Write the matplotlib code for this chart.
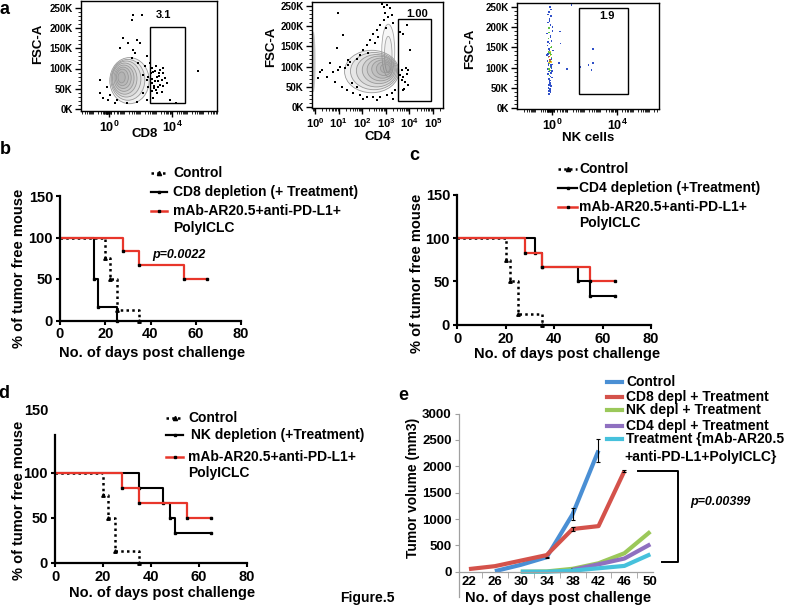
import numpy as np
import matplotlib
matplotlib.use('Agg')
import matplotlib.pyplot as plt
from matplotlib.lines import Line2D
from matplotlib.patches import Ellipse, Rectangle

plt.rcParams['font.family'] = ['Liberation Sans', 'DejaVu Sans']
plt.rcParams['font.weight'] = 'bold'
plt.rcParams['mathtext.fontset'] = 'custom'
plt.rcParams['mathtext.bf'] = 'Liberation Sans:bold'
plt.rcParams['mathtext.rm'] = 'Liberation Sans:bold'

# ---------------- data ----------------
# flow plots: x in log decades, y in K (FSC-A)
fsc_ticks = [0, 50, 100, 150, 200, 250]
fsc_labels = ['0K', '50K', '100K', '150K', '200K', '250K']

# CD8 contour levels (centre x, centre y, width, height)
c1_x = [1.30, 1.20, 1.10, 1.00, 0.95, 0.90, 0.85, 0.80]
c1_y = [70, 72, 74, 75, 76, 77, 78, 78]
c1_w = [2.50, 2.15, 1.85, 1.55, 1.28, 1.02, 0.76, 0.46]
c1_h = [114, 101, 89, 77, 65, 53, 41, 27]
cd8_dots_x = [1.54, 2.07, 1.44, 1.76, 0.91, 1.23, 1.54, 1.65, 1.97, 2.39, 0.70, 1.44, 1.86, 2.29, 2.18,
              2.39, 2.50, 2.18, 2.39, -0.57, -0.36, -0.04, 0.38, 1.12, 1.76, -0.15, 0.06, 0.49, -0.57,
              2.71, 2.81, 3.03, 3.24, 3.45, 2.92, 3.13, 3.34, 3.56, 3.03, 2.81, 3.66, 3.34, 3.87, 4.25,
              5.67, 2.86, 3.20, 3.45, 2.60, 2.98, 2.71, 2.50, 2.65, 2.75, 2.95, 3.10, 3.25, 2.85, 3.00,
              3.15, 2.70, 3.40]
cd8_dots_y = [233, 233, 220, 171, 175, 163, 146, 138, 163, 130, 150, 125, 113, 105, 84,
              72, 55, 39, 22, 39, 26, 22, 14, 14, 18, 55, 35, 22, 72,
              101, 92, 80, 97, 88, 68, 55, 43, 76, 39, 26, 64, 72, 22, 14,
              95, 51, 82, 101, 113, 105, 64, 80, 88, 75, 95, 70, 60, 58, 48,
              88, 45, 58]
cd8_gate = [2.60, 15, 2.23, 188]   # x0, y0, width, height
cd8_pct = '3.1'

# CD4 contour levels
c2_x = [2.40, 2.50, 2.60, 2.70, 2.78, 2.85, 2.92, 2.97]
c2_y = [88, 89, 90, 92, 93, 94, 95, 96]
c2_w = [2.30, 2.00, 1.70, 1.40, 1.15, 0.90, 0.65, 0.40]
c2_h = [105, 92, 80, 68, 56, 45, 34, 22]
spike_x = [3.10, 3.10]
spike_y = [140, 130]
spike_w = [0.55, 0.32]
spike_h = [130, 90]
cd4_dots_x = [2.82, 2.92, 3.04, 3.18, 2.97, 3.11, 3.25, 2.90, 2.75, 2.61, 3.32, 3.01, 2.47, 2.68, 2.33,
              2.19, 2.54, 2.05, 1.91, 2.26, 1.77, 1.48, 1.41, 1.27, 1.06, 0.99, 0.78, 0.64, 0.49, 0.85,
              1.13, 1.34, 1.62, 1.91, 2.19, 2.47, 2.75, 3.04, 3.25, 3.39, 0.92, 1.41, 0.21, 0.14, 1.20,
              0.99, 0.28, 1.55, 1.77, 2.61, 2.05, 3.32,
              3.60, 3.74, 3.88, 4.03, 3.67, 3.74, 3.88, 3.81, 3.95, 3.77, 3.67, 3.86, 3.95, 3.71, 3.60]
cd4_dots_y = [255, 248, 252, 244, 232, 224, 228, 215, 203, 191, 207, 195, 182, 174, 166,
              153, 158, 141, 129, 133, 120, 112, 104, 96, 100, 92, 87, 108, 75, 63,
              50, 42, 34, 30, 26, 24, 26, 30, 34, 42, 145, 116, 87, 71, 178,
              232, 92, 59, 49, 17, 19, 21,
              186, 182, 203, 141, 92, 75, 83, 63, 54, 46, 67, 96, 92, 42, 79]
cd4_gate = [3.53, 16, 1.37, 201]
cd4_pct = '1.00'

# NK pseudo-colour dots
nk_x = [-0.12, -0.20, -0.05, -0.15, -0.25, -0.08, -0.18, 0.02, -0.30, -0.10,
        -0.22, -0.02, -0.14, -0.28, -0.06, -0.17, 0.05, -0.11, -0.24, -0.09,
        -0.19, -0.04, -0.13, -0.27, -0.07, -0.16, 0.00, -0.21, -0.10, -0.03,
        -0.23, -0.12, -0.18, -0.06, -0.26, -0.14, -0.01, -0.20, -0.09, -0.16,
        -0.11, -0.05, -0.22, -0.13, -0.08, -0.19, -0.15, -0.10, -0.17, -0.12,
        -0.07, -0.26, -0.14, 0.03, -0.19, -0.09, -0.23, -0.04, -0.16, -0.11,
        -0.29, -0.02, -0.13, -0.21, -0.06, -0.18, 0.01, -0.24, -0.10, -0.15,
        -0.08, -0.20, -0.12, -0.17, -0.05, -0.22, -0.14, -0.09, -0.18, -0.11,
        0.49, 0.53, 0.94, 0.45, 2.24, 2.54, 2.54, 2.44, 1.21, 1.76]
nk_y = [250, 238, 228, 220, 212, 205, 198, 190, 184, 178,
        172, 166, 160, 155, 150, 146, 142, 138, 134, 130,
        127, 124, 120, 117, 114, 111, 108, 105, 102, 99,
        96, 93, 90, 87, 84, 80, 76, 72, 68, 64,
        60, 55, 50, 45, 40, 35, 128, 120, 112, 116,
        244, 232, 216, 201, 187, 175, 163, 152, 144, 136,
        131, 122, 118, 109, 104, 97, 91, 85, 78, 70,
        62, 57, 48, 42, 132, 125, 110, 106, 138, 140,
        189, 160, 96, 111, 106, 146, 111, 94, 255, 102]
nk_c = ['b', 'b', 'b', 'b', 'b', 'b', 'g', 'b', 'b', 'b',
        'g', 'b', 'b', 'b', 'g', 'b', 'b', 'g', 'b', 'y',
        'b', 'g', 'r', 'b', 'y', 'g', 'b', 'b', 'g', 'b',
        'b', 'g', 'b', 'b', 'b', 'g', 'b', 'b', 'b', 'b',
        'b', 'b', 'b', 'b', 'b', 'b', 'r', 'r', 'y', 'r',
        'b', 'b', 'b', 'b', 'g', 'b', 'b', 'g', 'b', 'g',
        'b', 'b', 'g', 'b', 'b', 'g', 'b', 'b', 'b', 'b',
        'b', 'b', 'b', 'b', 'g', 'y', 'g', 'b', 'g', 'y',
        'b', 'b', 'b', 'b', 'b', 'b', 'b', 'b', 'b', 'b']
nk_gate = [1.66, 35, 3.02, 212]
nk_pct = '1.9'

# Kaplan-Meier curves (days, % tumor free)
b_ctrl_t = [0, 20, 22, 25, 35]
b_ctrl_s = [100, 75, 50, 12.5, 0]
b_dep_t = [0, 15, 17, 25]
b_dep_s = [100, 50, 16.7, 0]
b_trt_t = [0, 28, 35, 55, 65]
b_trt_s = [100, 83.3, 66.7, 50, 50]

c_ctrl_t = [0, 20, 22, 25, 35]
c_ctrl_s = [100, 75, 50, 12.5, 0]
c_dep_t = [0, 32, 35, 50, 55, 65]
c_dep_s = [100, 83.3, 66.7, 50, 33.3, 33.3]
c_trt_t = [0, 28, 35, 55, 65]
c_trt_s = [100, 83.3, 66.7, 50, 50]

d_ctrl_t = [0, 20, 22, 25, 35]
d_ctrl_s = [100, 75, 50, 12.5, 0]
d_dep_t = [0, 35, 45, 48, 50, 65]
d_dep_s = [100, 83.3, 66.7, 50, 33.3, 33.3]
d_trt_t = [0, 28, 35, 55, 65]
d_trt_s = [100, 83.3, 66.7, 50, 50]

km_xticks = [0, 20, 40, 60, 80]

# tumor volume
days_e = ['22', '26', '30', '34', '38', '42', '46', '50']
nan = np.nan
vol_control = [nan, 10, 130, 275, 1090, 2300, nan, nan]
vol_cd8 = [50, 105, 210, 315, 810, 865, 1910, nan]
vol_nk = [nan, nan, 0, 5, 55, 160, 350, 760]
vol_cd4 = [nan, nan, nan, nan, 35, 140, 250, 520]
vol_treat = [nan, nan, 0, 0, 20, 65, 110, 330]
err_control = [0, 0, 0, 10, 110, 210, 0, 0]
err_cd8 = [0, 0, 0, 0, 30, 0, 25, 0]
err_nk = [0, 0, 0, 0, 15, 0, 0, 0]
e_names = ['Control', 'CD8 depl + Treatment', 'NK depl + Treatment', 'CD4 depl + Treatment',
           'Treatment {mAb-AR20.5']
e_colors = ['#4a8fd4', '#d4524b', '#9bc85a', '#8f70c0', '#46c1dc']

RED = '#e8362b'

# ---------------- figure ----------------
W, H = 787, 607
fig = plt.figure(figsize=(W / 100, H / 100), dpi=100)


def add_ax(l, t, r, b):
    return fig.add_axes([l / W, 1 - b / H, (r - l) / W, (b - t) / H])


def ftext(x, y, s, **kw):
    kw.setdefault('ha', 'center')
    kw.setdefault('va', 'center')
    kw.setdefault('fontweight', 'bold')
    return fig.text(x / W, 1 - y / H, s, **kw)


def fline(xs, ys, **kw):
    fig.add_artist(Line2D([x / W for x in xs], [1 - y / H for y in ys], **kw))


# ---------- panel a ----------
def flow_axes(ax, xlim, ylim, xt, fs, dense=False):
    ax.set_xlim(*xlim)
    ax.set_ylim(*ylim)
    for s in ax.spines.values():
        s.set_linewidth(1.0)
    ax.set_yticks(fsc_ticks)
    ax.set_yticklabels(fsc_labels, fontsize=7)
    ax.set_yticks(np.arange(0, 260, 10), minor=True)
    ax.set_xticks(xt)
    ax.set_xticklabels([r'$\mathbf{10^{%d}}$' % d for d in xt], fontsize=fs)
    minor = [d + np.log10(k) for d in range(-2, 7) for k in range(2, 10)]
    if dense:
        minor += list(np.arange(-0.3, 0.15, 0.04))
    ax.set_xticks([m for m in minor if xlim[0] < m < xlim[1]], minor=True)
    ax.tick_params(which='major', length=4, width=1, pad=2)
    ax.tick_params(which='minor', length=2.2, width=0.6)


ax1 = add_ax(81, 0.5, 217, 111)
flow_axes(ax1, (-1.78, 6.86), (-5, 268), [0, 4], 9, dense=True)
for cx, cy, w, h in zip(c1_x, c1_y, c1_w, c1_h):
    ax1.add_patch(Ellipse((cx, cy), w, h, facecolor=(0.5, 0.5, 0.5, 0.10),
                          edgecolor='0.6', lw=0.6))
ax1.scatter(cd8_dots_x, cd8_dots_y, s=0.9, c='k', marker='s', lw=0)
ax1.add_patch(Rectangle((cd8_gate[0], cd8_gate[1]), cd8_gate[2], cd8_gate[3],
                        fill=False, ec='k', lw=1))
ax1.text(3.43, 233, cd8_pct, ha='center', va='center', fontsize=8)

ax2 = add_ax(312, 2, 443, 107.5)
flow_axes(ax2, (-0.13, 5.42), (-1, 260), [0, 1, 2, 3, 4, 5], 8)
ax2.add_patch(Ellipse((-0.06, 112), 0.16, 150, facecolor=(0.5, 0.5, 0.5, 0.45), edgecolor='none'))
for cx, cy, w, h in zip(spike_x, spike_y, spike_w, spike_h):
    ax2.add_patch(Ellipse((cx, cy), w, h, facecolor=(0.5, 0.5, 0.5, 0.06),
                          edgecolor='0.65', lw=0.6))
for cx, cy, w, h in zip(c2_x, c2_y, c2_w, c2_h):
    ax2.add_patch(Ellipse((cx, cy), w, h, facecolor=(0.5, 0.5, 0.5, 0.10),
                          edgecolor='0.6', lw=0.6))
ax2.scatter(cd4_dots_x, cd4_dots_y, s=0.9, c='k', marker='s', lw=0)
ax2.add_patch(Rectangle((cd4_gate[0], cd4_gate[1]), cd4_gate[2], cd4_gate[3],
                        fill=False, ec='k', lw=1))
ax2.text(4.31, 230, cd4_pct, ha='center', va='center', fontsize=8)

ax3 = add_ax(517, 3, 659, 109)
flow_axes(ax3, (-2.15, 6.58), (-2.5, 260), [0, 4], 9, dense=True)
cmap_nk = {'b': '#3050c8', 'g': '#60c040', 'y': '#e0d020', 'r': '#e03020'}
ax3.scatter(nk_x, nk_y, s=1.3, c=[cmap_nk[c] for c in nk_c], marker='s', lw=0)
ax3.add_patch(Rectangle((nk_gate[0], nk_gate[1]), nk_gate[2], nk_gate[3],
                        fill=False, ec='k', lw=1))
ax3.text(3.38, 228, nk_pct, ha='center', va='center', fontsize=8)

ftext(38, 44, 'FSC-A', rotation=90, fontsize=9.5)
ftext(271, 47, 'FSC-A', rotation=90, fontsize=9.5)
ftext(470, 49, 'FSC-A', rotation=90, fontsize=9.5)
ftext(145, 134, 'CD8', fontsize=9.5)
ftext(378, 137, 'CD4', fontsize=9.5)
ftext(588, 138, 'NK cells', fontsize=9.5)


# ---------- KM panels ----------
def km_axes(ax, ytop, spine_top, yticks):
    ax.set_xlim(0, 80)
    ax.set_ylim(0, ytop)
    ax.spines['top'].set_visible(False)
    ax.spines['right'].set_visible(False)
    ax.spines['left'].set_linewidth(1.6)
    ax.spines['bottom'].set_linewidth(1.6)
    ax.spines['left'].set_bounds(0, spine_top)
    ax.set_xticks(km_xticks)
    ax.set_yticks(yticks)
    ax.tick_params(length=3, width=1.5, labelsize=10.5, pad=2)


def km_curves(ax, ct, cs, dt, ds, tt, ts):
    ax.step(ct, cs, where='post', color='k', lw=1.8, ls=(0, (1, 1.3)), clip_on=False)
    ax.plot(ct[1:], cs[1:], ls='none', marker='^', ms=2.5, color='k', clip_on=False)
    ax.step(dt, ds, where='post', color='k', lw=1.5, clip_on=False)
    ax.plot(dt[1:], ds[1:], ls='none', marker='s', ms=2, color='k', clip_on=False)
    ax.step(tt, ts, where='post', color=RED, lw=1.6, clip_on=False)
    ax.plot(tt[1:], ts[1:], ls='none', marker='s', ms=2, color='k', clip_on=False)


def km_legend(x0, x1, tx, ys, dep_label, tx2=None):
    yc, yd, yt, yp = ys
    mid = (x0 + x1) / 2
    fline([x0, x1], [yc, yc], color='k', lw=1.8, ls=(0, (1, 1.3)))
    fline([mid], [yc], color='k', marker='^', ms=3)
    fline([x0, x1], [yd, yd], color='k', lw=1.6)
    fline([mid], [yd], color='k', marker='s', ms=2)
    fline([x0, x1], [yt, yt], color=RED, lw=1.8)
    fline([mid], [yt], color='k', marker='s', ms=2)
    ftext(tx, yc, 'Control', ha='left', fontsize=10)
    ftext(tx if tx2 is None else tx2, yd, dep_label, ha='left', fontsize=10)
    ftext(tx, yt, 'mAb-AR20.5+anti-PD-L1+', ha='left', fontsize=10)
    ftext(tx, yp, 'PolyICLC', ha='left', fontsize=10)


# b
axb = add_ax(60, 196, 241, 320.5)
km_axes(axb, 150, 150, [0, 50, 100, 150])
km_curves(axb, b_ctrl_t, b_ctrl_s, b_dep_t, b_dep_s, b_trt_t, b_trt_s)
axb.text(40.7, 79, 'p=0.0022', style='italic', ha='left', va='center', fontsize=9)
km_legend(151, 167, 173, (173, 192, 211, 228), 'CD8 depletion (+ Treatment)')
ftext(152, 353, 'No. of days post challenge', fontsize=10.5)
ftext(19, 268, '% of tumor free mouse', rotation=90, fontsize=10.5)

# c
axc = add_ax(457, 194.5, 651, 325)
km_axes(axc, 150, 150, [0, 50, 100, 150])
km_curves(axc, c_ctrl_t, c_ctrl_s, c_dep_t, c_dep_s, c_trt_t, c_trt_s)
km_legend(558, 577, 579, (169, 188, 207, 223), 'CD4 depletion (+Treatment)')
ftext(567, 354, 'No. of days post challenge', fontsize=10.5)
ftext(417, 273, '% of tumor free mouse', rotation=90, fontsize=10.5)

# d
axd = add_ax(55, 434.9, 247, 562.7)
km_axes(axd, 142, 142, [0, 50, 100])
km_curves(axd, d_ctrl_t, d_ctrl_s, d_dep_t, d_dep_s, d_trt_t, d_trt_s)
axd.text(-0.036, 168, '150', transform=axd.get_yaxis_transform(), ha='right',
         va='center', fontsize=10.5)
km_legend(166, 183, 188, (418, 435, 457, 473), 'NK depletion (+Treatment)', tx2=191)
ftext(162, 593, 'No. of days post challenge', fontsize=10.5)
ftext(19, 500, '% of tumor free mouse', rotation=90, fontsize=10.5)

# ---------- panel e ----------
axe = add_ax(458.6, 413.6, 652.9, 571.7)
xe = np.arange(len(days_e))
series = [vol_control, vol_cd8, vol_nk, vol_cd4, vol_treat]
errs = [err_control, err_cd8, err_nk, None, None]
for vals, col, er in zip(series, e_colors, errs):
    axe.plot(xe, vals, color=col, lw=3, solid_capstyle='butt', clip_on=False)
    if er is not None:
        v = np.array(vals, dtype=float)
        e = np.array(er, dtype=float)
        m = e > 0
        axe.errorbar(xe[m], v[m], yerr=e[m], fmt='none', ecolor='k', elinewidth=0.8,
                     capsize=1.5, capthick=0.8)
axe.set_xlim(-0.4, 7.1)
axe.set_ylim(0, 3000)
axe.set_yticks(range(0, 3001, 500))
axe.set_xticks(xe)
axe.set_xticklabels(days_e)
axe.set_xticks(xe[:-1] + 0.5, minor=True)
axe.spines['top'].set_visible(False)
axe.spines['right'].set_visible(False)
for s in ('left', 'bottom'):
    axe.spines[s].set_color('#a0a0a0')
    axe.spines[s].set_linewidth(0.9)
axe.spines['left'].set_bounds(-480, 3000)
axe.tick_params(axis='y', length=3, color='#a0a0a0', labelsize=9.5, pad=2)
axe.tick_params(axis='x', which='major', length=0, labelsize=9.5, pad=3)
axe.tick_params(axis='x', which='minor', length=4, color='#a0a0a0')
# significance bracket
axe.plot([6.53, 8.07, 8.07, 7.45], [1910, 1910, 184, 184], color='k', lw=1.4, clip_on=False)
axe.text(8.53, 1322, 'p=0.00399', style='italic', ha='left', va='center', fontsize=9)

ly = [382, 397, 410, 426, 439]
for y, name, col in zip(ly, e_names, e_colors):
    fline([607, 622], [y, y], color=col, lw=3)
    ftext(626, y, name, ha='left', fontsize=10)
ftext(624, 457, '+anti-PD-L1+PolyICLC}', ha='left', fontsize=10)
ftext(558, 598, 'No. of days post challenge', fontsize=10.5)
ftext(413, 488, 'Tumor volume (mm3)', rotation=90, fontsize=10)

# panel letters and caption
ftext(5, 9, 'a', fontsize=13)
ftext(5, 149, 'b', fontsize=13)
ftext(414, 156, 'c', fontsize=13)
ftext(4, 393, 'd', fontsize=13)
ftext(403, 395, 'e', fontsize=13)
ftext(367, 598, 'Figure.5', fontsize=10)

fig.savefig('out.png', dpi=100)
